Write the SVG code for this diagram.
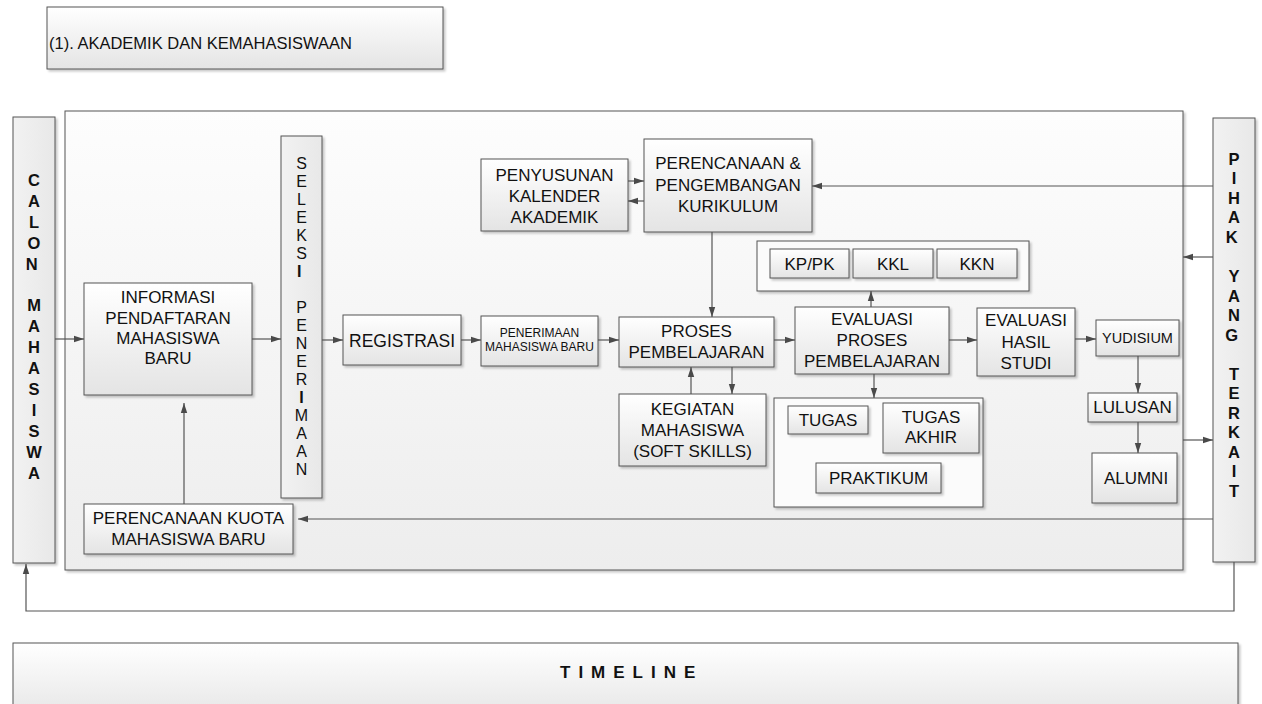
<svg xmlns="http://www.w3.org/2000/svg" width="1262" height="704" viewBox="0 0 1262 704">
<defs>
<linearGradient id="gBox" x1="0" y1="0" x2="0" y2="1">
<stop offset="0" stop-color="#ffffff"/>
<stop offset="1" stop-color="#e4e4e4"/>
</linearGradient>
<linearGradient id="gPanel" x1="0" y1="0" x2="0" y2="1">
<stop offset="0" stop-color="#fdfdfd"/>
<stop offset="1" stop-color="#ededed"/>
</linearGradient>
<linearGradient id="gCol" x1="0" y1="0" x2="1" y2="0">
<stop offset="0" stop-color="#f2f2f2"/>
<stop offset="1" stop-color="#e8e8e8"/>
</linearGradient>
<filter id="sh" x="-10%" y="-10%" width="130%" height="130%">
<feDropShadow dx="2" dy="2" stdDeviation="1" flood-color="#000" flood-opacity="0.22"/>
</filter>
<marker id="ah" markerUnits="userSpaceOnUse" markerWidth="11" markerHeight="8" refX="10" refY="4" orient="auto">
<path d="M0,0.8 L10,4 L0,7.2 z" fill="#4a4a4a"/>
</marker>
<style>
.box{fill:url(#gBox);stroke:#555;stroke-width:1;filter:url(#sh)}
.panel{fill:url(#gPanel);stroke:#555;stroke-width:1;filter:url(#sh)}
.col{fill:url(#gCol);stroke:#555;stroke-width:1;filter:url(#sh)}
.t{font-family:"Liberation Sans",Arial,sans-serif;font-size:17px;fill:#111;text-anchor:middle}
.s{font-size:12px}
.y{font-size:14.5px}
.v{font-family:"Liberation Sans",Arial,sans-serif;font-size:16px;fill:#111;text-anchor:middle}
.b{font-weight:bold}
.c{fill:none;stroke:#555;stroke-width:1.2;marker-end:url(#ah)}
</style>
</defs>

<g id="header">
<rect class="box" x="47" y="7" width="396" height="62"/>
<text x="49" y="49" style="font-family:'Liberation Sans',Arial,sans-serif;font-size:16.5px;fill:#111">(1). AKADEMIK DAN KEMAHASISWAAN</text>
</g>

<g id="container">
<rect class="panel" x="65" y="111" width="1118" height="459"/>
</g>

<g id="calon-mahasiswa">
<rect class="col" x="13" y="117" width="42" height="446"/>
<text class="v b" style="font-size:16.5px">
<tspan x="34" y="186">C</tspan><tspan x="34" y="207">A</tspan><tspan x="34" y="228">L</tspan><tspan x="34" y="249">O</tspan><tspan x="34" y="270">N</tspan>
<tspan x="34" y="311">M</tspan><tspan x="34" y="332">A</tspan><tspan x="34" y="353">H</tspan><tspan x="34" y="374">A</tspan><tspan x="34" y="395">S</tspan><tspan x="34" y="416">I</tspan><tspan x="34" y="437">S</tspan><tspan x="34" y="458">W</tspan><tspan x="34" y="479">A</tspan>
</text>
</g>

<g id="pihak-terkait">
<rect class="col" x="1213" y="118" width="42" height="444"/>
<text class="v b" style="font-size:16.5px">
<tspan x="1234" y="165">P</tspan><tspan x="1234" y="184">I</tspan><tspan x="1234" y="204">H</tspan><tspan x="1234" y="223">A</tspan><tspan x="1234" y="243">K</tspan>
<tspan x="1234" y="282">Y</tspan><tspan x="1234" y="302">A</tspan><tspan x="1234" y="321">N</tspan><tspan x="1234" y="341">G</tspan>
<tspan x="1234" y="380">T</tspan><tspan x="1234" y="399">E</tspan><tspan x="1234" y="419">R</tspan><tspan x="1234" y="438">K</tspan><tspan x="1234" y="458">A</tspan><tspan x="1234" y="477">I</tspan><tspan x="1234" y="497">T</tspan>
</text>
</g>

<g id="seleksi-penerimaan">
<rect class="col" x="281" y="136" width="41" height="362"/>
<text class="v">
<tspan x="301.5" y="169">S</tspan><tspan x="301.5" y="187">E</tspan><tspan x="301.5" y="205">L</tspan><tspan x="301.5" y="223">E</tspan><tspan x="301.5" y="241">K</tspan><tspan x="301.5" y="259">S</tspan><tspan x="301.5" y="277" font-weight="bold">I</tspan>
<tspan x="301.5" y="313">P</tspan><tspan x="301.5" y="331">E</tspan><tspan x="301.5" y="349">N</tspan><tspan x="301.5" y="367">E</tspan><tspan x="301.5" y="385">R</tspan><tspan x="301.5" y="403" font-weight="bold">I</tspan><tspan x="301.5" y="421">M</tspan><tspan x="301.5" y="439">A</tspan><tspan x="301.5" y="457">A</tspan><tspan x="301.5" y="475">N</tspan>
</text>
</g>

<g id="informasi">
<rect class="box" x="84" y="283" width="168" height="112"/>
<text class="t"><tspan x="168" y="303">INFORMASI</tspan><tspan x="168" y="324">PENDAFTARAN</tspan><tspan x="168" y="344">MAHASISWA</tspan><tspan x="168" y="364">BARU</tspan></text>
</g>

<g id="kuota">
<rect class="box" x="84" y="504" width="209" height="50"/>
<text class="t"><tspan x="188.5" y="524">PERENCANAAN KUOTA</tspan><tspan x="188.5" y="545">MAHASISWA BARU</tspan></text>
</g>

<g id="registrasi">
<rect class="box" x="343" y="315" width="118" height="50"/>
<text class="t" x="402" y="347" style="font-size:17.5px">REGISTRASI</text>
</g>

<g id="penerimaan">
<rect class="box" x="481" y="316" width="117" height="50"/>
<text class="t s"><tspan x="539.5" y="337">PENERIMAAN</tspan><tspan x="539.5" y="351">MAHASISWA BARU</tspan></text>
</g>

<g id="penyusunan">
<rect class="box" x="481" y="159" width="147" height="72"/>
<text class="t"><tspan x="554.5" y="181">PENYUSUNAN</tspan><tspan x="554.5" y="202">KALENDER</tspan><tspan x="554.5" y="223">AKADEMIK</tspan></text>
</g>

<g id="kurikulum">
<rect class="box" x="644" y="139" width="168" height="93"/>
<text class="t"><tspan x="728" y="169">PERENCANAAN &amp;</tspan><tspan x="728" y="191">PENGEMBANGAN</tspan><tspan x="728" y="212">KURIKULUM</tspan></text>
</g>

<g id="proses">
<rect class="box" x="619" y="317" width="155" height="50"/>
<text class="t"><tspan x="696.5" y="337">PROSES</tspan><tspan x="696.5" y="358">PEMBELAJARAN</tspan></text>
</g>

<g id="kegiatan">
<rect class="box" x="619" y="394" width="147" height="72"/>
<text class="t"><tspan x="692.5" y="415">KEGIATAN</tspan><tspan x="692.5" y="436">MAHASISWA</tspan><tspan x="692.5" y="457">(SOFT SKILLS)</tspan></text>
</g>

<g id="kp-group">
<rect class="panel" x="757" y="241" width="272" height="50" style="fill:#fbfbfb"/>
<g id="kppk"><rect class="box" x="770" y="249" width="79" height="29"/><text class="t" x="809.5" y="270">KP/PK</text></g>
<g id="kkl"><rect class="box" x="853" y="249" width="80" height="29"/><text class="t" x="893" y="270">KKL</text></g>
<g id="kkn"><rect class="box" x="937" y="249" width="80" height="29"/><text class="t" x="977" y="270">KKN</text></g>
</g>

<g id="evaluasi-proses">
<rect class="box" x="795" y="307" width="154" height="67"/>
<text class="t"><tspan x="872" y="325">EVALUASI</tspan><tspan x="872" y="346">PROSES</tspan><tspan x="872" y="367">PEMBELAJARAN</tspan></text>
</g>

<g id="tugas-group">
<rect class="panel" x="774" y="398" width="209" height="109" style="fill:#fbfbfb"/>
<g id="tugas"><rect class="box" x="788" y="406" width="80" height="28"/><text class="t" x="828" y="426">TUGAS</text></g>
<g id="tugas-akhir"><rect class="box" x="883" y="403" width="96" height="50"/><text class="t"><tspan x="931" y="423">TUGAS</tspan><tspan x="931" y="443">AKHIR</tspan></text></g>
<g id="praktikum"><rect class="box" x="816" y="463" width="125" height="30"/><text class="t" x="878.5" y="484">PRAKTIKUM</text></g>
</g>

<g id="evaluasi-hasil">
<rect class="box" x="977" y="308" width="98" height="68"/>
<text class="t"><tspan x="1026" y="326">EVALUASI</tspan><tspan x="1026" y="348">HASIL</tspan><tspan x="1026" y="369">STUDI</tspan></text>
</g>

<g id="yudisium">
<rect class="box" x="1096" y="320" width="83" height="36"/>
<text class="t y" x="1137.5" y="343">YUDISIUM</text>
</g>

<g id="lulusan">
<rect class="box" x="1088" y="393" width="89" height="29"/>
<text class="t" x="1132.5" y="413">LULUSAN</text>
</g>

<g id="alumni">
<rect class="box" x="1092" y="453" width="85" height="50"/>
<text class="t" x="1136" y="484">ALUMNI</text>
</g>

<g id="timeline">
<rect class="box" x="13" y="643" width="1225" height="80"/>
<text x="560" y="678" style="font-family:'Liberation Sans',Arial,sans-serif;font-size:17px;font-weight:bold;letter-spacing:8px;fill:#111">TIMELINE</text>
</g>

<g id="connectors">
<path class="c" d="M55,339 H84"/>
<path class="c" d="M252,339 H281"/>
<path class="c" d="M322,340 H343"/>
<path class="c" d="M461,340 H481"/>
<path class="c" d="M598,340 H619"/>
<path class="c" d="M774,340 H795"/>
<path class="c" d="M949,340 H977"/>
<path class="c" d="M1075,339 H1096"/>
<path class="c" d="M1138,356 V393"/>
<path class="c" d="M1138,422 V453"/>
<path class="c" d="M628,181 H644"/>
<path class="c" d="M644,201 H628"/>
<path class="c" d="M712,232 V317"/>
<path class="c" d="M871,307 V291"/>
<path class="c" d="M874,374 V398"/>
<path class="c" d="M691,394 V367"/>
<path class="c" d="M732,367 V394"/>
<path class="c" d="M184,504 V403"/>
<path class="c" d="M1213,186 H812"/>
<path class="c" d="M1213,257 H1183"/>
<path class="c" d="M1183,440 H1213"/>
<path class="c" d="M1213,519 H298"/>
<path class="c" d="M1234,562 V611 H26 V564"/>
</g>
</svg>
